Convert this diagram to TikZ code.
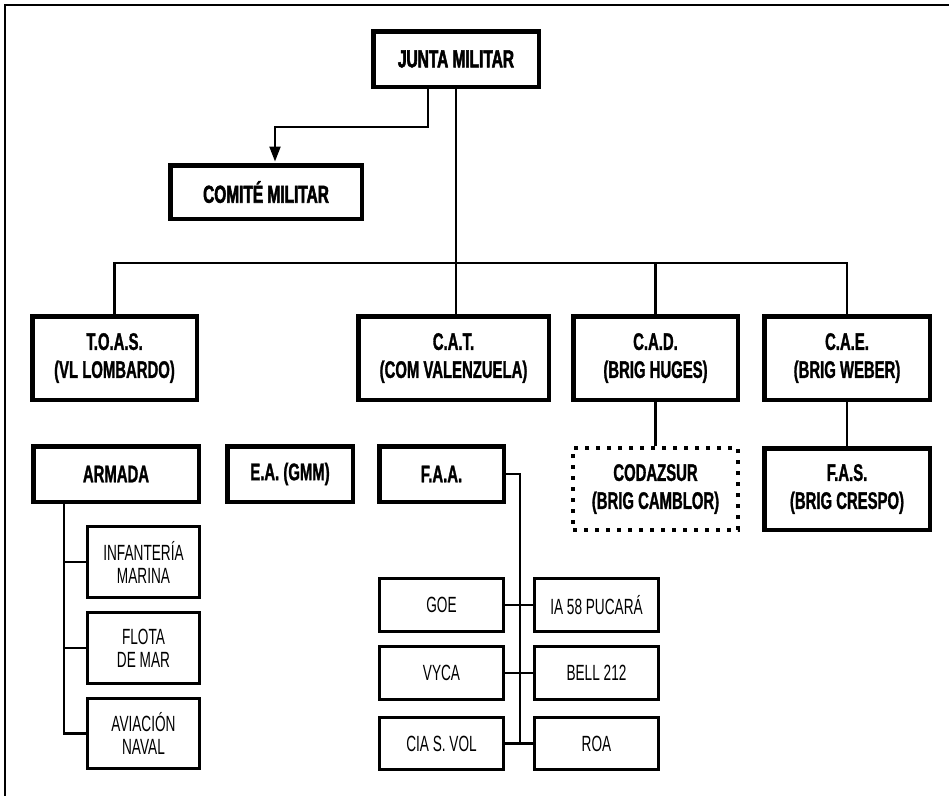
\documentclass[tikz,border=0pt]{standalone}
\usepackage{fontspec}
\setmainfont{Liberation Sans}[FakeStretch=0.62, BoldFeatures={FakeBold=1.2}]
\newfontfamily\heavyfont{Liberation Sans}[FakeStretch=0.63, BoldFeatures={FakeBold=2.2}]
\usetikzlibrary{arrows.meta}
\begin{document}
\begin{tikzpicture}[x=1pt,y=-1pt,
  topbox/.style={draw, line width=4.5pt, inner sep=0pt, align=center,
    font=\heavyfont\bfseries\fontsize{24.5}{28}\selectfont},
  unitbox/.style={draw, line width=4.5pt, inner sep=0pt, align=center,
    font=\bfseries\fontsize{24}{28}\selectfont},
  dotbox/.style={unitbox, line width=4pt, dash pattern=on 4pt off 7pt},
  subbox/.style={draw, line width=2.7pt, inner sep=0pt, align=center,
    minimum width=124.3pt, minimum height=53.3pt,
    font=\fontsize{22}{23}\selectfont},
  navbox/.style={subbox, minimum width=112.3pt},
  conn/.style={line width=2.2pt}]
\useasboundingbox (0,0) rectangle (949,795);

% outer frame (top and left edges)
\draw[line width=2.5pt] (5,800) -- (5,5) -- (955,5);

% command level
\node[topbox, minimum width=165.5pt, minimum height=55.5pt] (junta) at (456,59) {JUNTA MILITAR};
\node[topbox, minimum width=191.5pt, minimum height=53.5pt] (comite) at (266,192) {COMITÉ MILITAR};

% theatre commands
\node[unitbox, minimum width=164.5pt, minimum height=83.5pt] (toas) at (114.5,358) {T.O.A.S.\\(VL LOMBARDO)};
\node[unitbox, minimum width=190.5pt, minimum height=83.5pt] (cat) at (453.5,358) {C.A.T.\\(COM VALENZUELA)};
\node[unitbox, minimum width=164.5pt, minimum height=83.5pt] (cad) at (655.5,358) {C.A.D.\\(BRIG HUGES)};
\node[unitbox, minimum width=165.5pt, minimum height=83.5pt] (cae) at (847,358) {C.A.E.\\(BRIG WEBER)};

% forces
\node[unitbox, minimum width=165.5pt, minimum height=55.5pt] (armada) at (116,474) {ARMADA};
\node[unitbox, minimum width=125.5pt, minimum height=55.5pt] (ea) at (290,474) {E.A. (GMM)};
\node[unitbox, minimum width=124.5pt, minimum height=55.5pt] (faa) at (441.5,474) {F.A.A.};
\node[dotbox, minimum width=165pt, minimum height=82pt] (codaz) at (655.5,489) {CODAZSUR\\(BRIG CAMBLOR)};
\node[unitbox, minimum width=165.5pt, minimum height=81.5pt] (fas) at (847,489) {F.A.S.\\(BRIG CRESPO)};

% navy components
\node[navbox, minimum height=71.3pt] (inf) at (143.5,562) {INFANTERÍA\\MARINA};
\node[navbox, minimum height=71.3pt] (flota) at (143.5,648) {FLOTA\\DE MAR};
\node[navbox, minimum height=70.3pt] (avia) at (143.5,733.5) {AVIACIÓN\\NAVAL};

% air force components
\node[subbox] (goe) at (441.5,605) {GOE};
\node[subbox] (vyca) at (441.5,673) {VYCA};
\node[subbox, minimum height=52.3pt] (cia) at (441.5,743.5) {CIA S. VOL};
\node[subbox] (ia) at (596.5,605) {IA 58 PUCARÁ};
\node[subbox] (bell) at (596.5,673) {BELL 212};
\node[subbox, minimum height=52.3pt] (roa) at (596.5,743.5) {ROA};

% trunk lines
\coordinate (bend) at (428,127);
\coordinate (bus) at (0,263);
\coordinate (trunkA) at (64,0);
\coordinate (trunkF) at (520,0);

\draw[conn, -{Triangle[length=15pt,width=11pt]}, shorten >=1.5pt]
  ([xshift=-28pt]junta.south) -- (bend) -| ([xshift=9pt]comite.north);
\draw[conn] (junta.south) -- (junta.south |- cat.north);
\draw[conn] (toas.north) -- (toas.north |- bus) -- (cae.north |- bus) -- (cae.north);
\draw[conn] (cad.north) -- (cad.north |- bus);
\draw[conn] (cad.south) -- (codaz.north);
\draw[conn] (cae.south) -- (fas.north);

\draw[conn] (armada.south -| trunkA) |- (avia.west);
\draw[conn] (inf.west) -- (inf.west -| trunkA);
\draw[conn] (flota.west) -- (flota.west -| trunkA);

\draw[conn] (faa.east) -| (roa.west -| trunkF);
\draw[conn] (goe.east) -- (ia.west);
\draw[conn] (vyca.east) -- (bell.west);
\draw[conn] (cia.east) -- (roa.west);
\end{tikzpicture}
\end{document}
